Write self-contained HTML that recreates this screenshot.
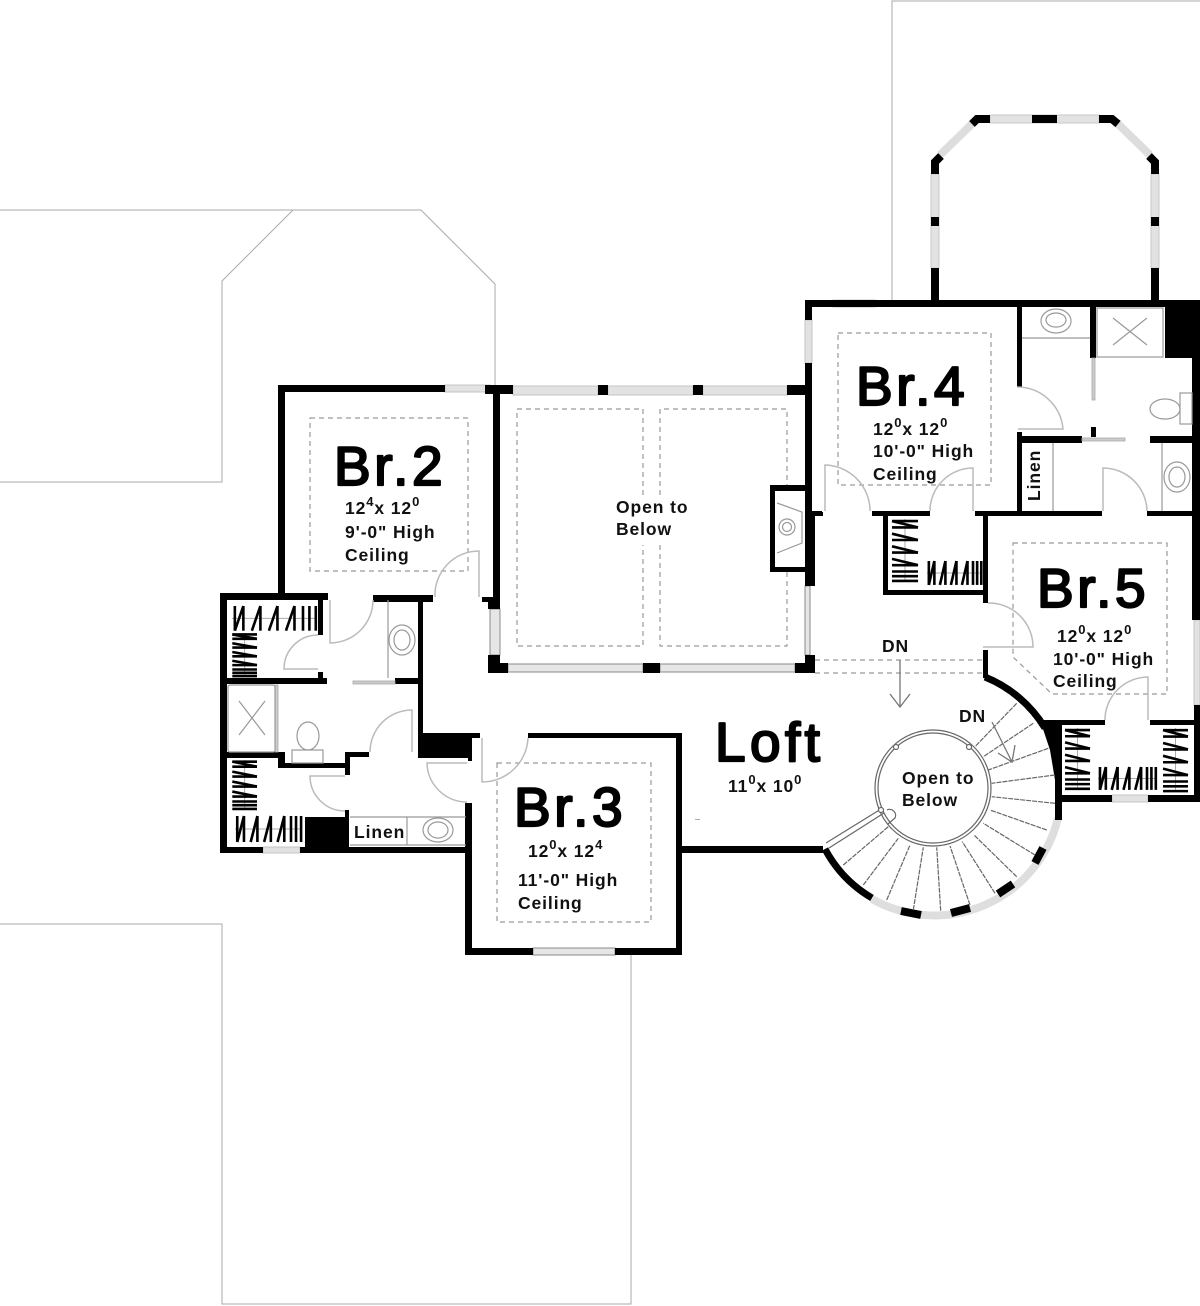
<!DOCTYPE html>
<html><head><meta charset="utf-8"><title>Second floor plan</title>
<style>
html,body{margin:0;padding:0;background:#fff}
svg{display:block;filter:blur(.35px)}
text{font-family:"Liberation Sans",sans-serif;font-weight:bold;fill:#111}
.big{font-size:55px;font-weight:normal;letter-spacing:3.6px;fill:#000;stroke:#000;stroke-width:2.2px;stroke-linejoin:round}
.loft{letter-spacing:4.4px}
.s{font-size:17.5px;letter-spacing:.9px}
.sup{font-size:13px}
.thin{fill:none;stroke:#aaa;stroke-width:1}
.dash{fill:none;stroke:#999;stroke-width:1.2;stroke-dasharray:5 4}
.door{fill:none;stroke:#bbb;stroke-width:1.5}
.fx{fill:none;stroke:#999;stroke-width:1.2}
.win{fill:#e2e2e2;stroke:#c4c4c4;stroke-width:1}
.winb{fill:#e6e6e6;stroke:#8a8a8a;stroke-width:1}
.tread{stroke:#666;stroke-width:1.2;stroke-dasharray:5 1;fill:none}
</style></head><body>
<svg xmlns="http://www.w3.org/2000/svg" width="1200" height="1306" viewBox="0 0 1200 1306">
<defs>
<g id="hang">
<line x1="0" y1="13" x2="60" y2="13" stroke="#aaa" stroke-width="1" vector-effect="non-scaling-stroke"/>
<g stroke="#000" stroke-width="2.6" fill="none">
<line x1="2" y1="26" x2="2" y2="0" vector-effect="non-scaling-stroke"/>
<line x1="2" y1="26" x2="8" y2="0" vector-effect="non-scaling-stroke"/>
<line x1="8" y1="26" x2="8" y2="0" vector-effect="non-scaling-stroke"/>
<line x1="14" y1="26" x2="20" y2="0" vector-effect="non-scaling-stroke"/>
<line x1="20" y1="26" x2="20" y2="0" vector-effect="non-scaling-stroke"/>
<line x1="26" y1="26" x2="32" y2="0" vector-effect="non-scaling-stroke"/>
<line x1="32" y1="26" x2="32" y2="0" vector-effect="non-scaling-stroke"/>
<line x1="38" y1="26" x2="44" y2="0" vector-effect="non-scaling-stroke"/>
<line x1="44" y1="26" x2="44" y2="0" vector-effect="non-scaling-stroke"/>
<line x1="50" y1="26" x2="50" y2="0" vector-effect="non-scaling-stroke"/>
<line x1="54.5" y1="26" x2="54.5" y2="0" vector-effect="non-scaling-stroke"/>
<line x1="59" y1="26" x2="59" y2="0" vector-effect="non-scaling-stroke"/>
</g>
</g>
</defs>
<rect width="1200" height="1306" fill="#fff"/>

<!-- roof outlines -->
<path class="thin" d="M892 300V1H1200"/>
<path class="thin" d="M0 210H293L222 281V482H0"/>
<path class="thin" d="M293 210H421L495 284V388"/>
<path class="thin" d="M0 924H222V1304H631V955"/>

<!-- dashed ceilings -->
<rect class="dash" x="310" y="418" width="158" height="153"/>
<rect class="dash" x="497" y="763" width="154" height="159"/>
<rect class="dash" x="838" y="333" width="153" height="152"/>
<path class="dash" d="M1013 543H1167V694H1052L1013 657Z"/>
<path class="dash" d="M643 495V409H517V646H643V545"/>
<path class="dash" d="M660 495V409H787V485M787 572V646H660V545"/>
<path class="dash" d="M815 660H983M815 673H983"/>

<!-- bay -->
<g fill="#e2e2e2" stroke="#c8c8c8">
<rect x="931" y="174" width="8" height="94"/>
<rect x="1151" y="174" width="8" height="94"/>
<rect x="990" y="115" width="109" height="8"/>
</g>
<path d="M940 155L974 122M1150 155L1116 122" stroke="#ddd" stroke-width="8" fill="none"/>
<g fill="none" stroke="#000" stroke-width="8">
<path d="M935 174V162L941 156"/>
<path d="M1155 174V162L1149 156"/>
<path d="M972 124L977 119H990"/>
<path d="M1118 124L1112 119H1099"/>
</g>
<g fill="#000">
<rect x="1032" y="115" width="25" height="8"/>
<rect x="931" y="217" width="8" height="9"/>
<rect x="1151" y="217" width="8" height="9"/>
<rect x="931" y="268" width="8" height="34"/>
<rect x="1151" y="268" width="8" height="34"/>
</g>

<!-- windows -->
<rect class="win" x="445" y="385" width="45" height="7"/>
<rect class="win" x="513" y="386" width="85" height="9"/>
<rect class="win" x="608" y="386" width="85" height="9"/>
<rect class="win" x="703" y="386" width="84" height="9"/>
<rect class="winb" x="490" y="609" width="10" height="46"/>
<rect class="winb" x="508" y="664" width="135" height="8"/>
<rect class="winb" x="660" y="664" width="135" height="8"/>
<rect class="winb" x="805" y="586" width="5" height="69"/>
<rect class="win" x="833" y="300" width="42" height="7"/>
<rect class="win" x="805" y="320" width="7" height="43"/>
<rect class="win" x="1194" y="620" width="6" height="85"/>
<rect class="win" x="1112" y="795" width="36" height="7"/>
<rect class="win" x="263" y="847" width="37" height="6"/>
<rect class="winb" x="533" y="948" width="82" height="7"/>

<!-- stair arc windows -->
<path d="M1058 818A127 127 0 0 1 872 899" fill="none" stroke="#dedede" stroke-width="8"/>

<!-- walls -->
<g fill="#000">
<rect x="805" y="300" width="395" height="7"/>
<rect x="805" y="300" width="7" height="20"/>
<rect x="805" y="363" width="7" height="223"/>
<rect x="1017" y="307" width="5" height="80"/>
<rect x="1017" y="432" width="5" height="80"/>
<rect x="1022" y="436" width="60" height="7"/>
<rect x="1150" y="436" width="42" height="7"/>
<rect x="1090" y="307" width="6" height="51"/>
<rect x="1091" y="427" width="5" height="10"/>
<rect x="1165" y="307" width="35" height="51"/>
<rect x="1192" y="307" width="8" height="313"/>
<rect x="1194" y="705" width="6" height="97"/>
<rect x="805" y="511" width="17" height="5"/>
<rect x="872" y="511" width="58" height="5"/>
<rect x="975" y="511" width="127" height="5"/>
<rect x="1147" y="511" width="48" height="5"/>
<rect x="883" y="516" width="5" height="79"/>
<rect x="883" y="590" width="105" height="5"/>
<rect x="983" y="511" width="5" height="92"/>
<rect x="983" y="650" width="5" height="28"/>
<rect x="1040" y="720" width="65" height="5"/>
<rect x="1150" y="720" width="50" height="5"/>
<polygon points="1040,720 1062,720 1062,780 1055,780 1050,750"/>
<rect x="1055" y="770" width="7" height="50"/>
<rect x="1062" y="795" width="50" height="7"/>
<rect x="1148" y="795" width="52" height="7"/>
<rect x="485" y="385" width="28" height="9"/>
<rect x="493" y="385" width="7" height="224"/>
<rect x="482" y="597" width="16" height="5"/>
<rect x="488" y="602" width="11" height="7"/>
<rect x="598" y="385" width="10" height="10"/>
<rect x="693" y="385" width="10" height="10"/>
<rect x="787" y="385" width="18" height="10"/>
<path d="M488 655H500V663H508V673H488Z"/>
<rect x="643" y="663" width="17" height="10"/>
<path d="M805 655H815V673H795V663H805Z"/>
<rect x="770" y="485" width="35" height="6"/>
<rect x="770" y="485" width="5" height="87"/>
<rect x="770" y="567" width="35" height="5"/>
<rect x="805" y="513" width="10" height="73"/>
<rect x="813" y="512" width="10" height="4"/>
<rect x="278" y="385" width="167" height="7"/>
<rect x="278" y="385" width="7" height="210"/>
<rect x="220" y="593" width="108" height="7"/>
<rect x="220" y="593" width="7" height="260"/>
<rect x="318" y="600" width="5" height="35"/>
<rect x="318" y="672" width="5" height="9"/>
<rect x="227" y="678" width="100" height="6"/>
<rect x="373" y="595" width="60" height="7"/>
<rect x="418" y="595" width="5" height="140"/>
<rect x="395" y="678" width="23" height="6"/>
<rect x="423" y="733" width="57" height="5"/>
<rect x="418" y="733" width="50" height="25"/>
<rect x="468" y="733" width="4" height="28"/>
<rect x="227" y="752" width="53" height="6"/>
<rect x="278" y="752" width="7" height="16"/>
<rect x="278" y="763" width="72" height="5"/>
<rect x="345" y="752" width="5" height="23"/>
<rect x="345" y="752" width="24" height="5"/>
<rect x="345" y="810" width="4" height="10"/>
<rect x="305" y="817" width="44" height="32"/>
<rect x="220" y="847" width="43" height="6"/>
<rect x="300" y="847" width="170" height="6"/>
<rect x="465" y="803" width="7" height="152"/>
<rect x="465" y="948" width="68" height="7"/>
<rect x="615" y="948" width="67" height="7"/>
<rect x="676" y="733" width="6" height="222"/>
<rect x="528" y="733" width="154" height="5"/>
<rect x="682" y="846" width="141" height="7"/>
</g>
<g fill="none" stroke="#000">
<path d="M985 677A125 125 0 0 1 1045 728" stroke-width="7"/>
<path d="M825 849A125 125 0 0 0 872 898" stroke-width="7"/>
<path d="M1043 848L1035 863M1013 884L998 894M970 908L951 913M921 915L901 911" stroke-width="8"/>
</g>
<rect x="695" y="819" width="5" height="1" fill="#aaa"/>

<!-- doors -->
<g class="door">
<path d="M1018 429H1063A46 46 0 0 0 1017 387"/>
<path d="M825 511V465A46 46 0 0 1 870 511"/>
<path d="M973 511V468A43 43 0 0 0 930 511"/>
<path d="M1103 511V468A44 44 0 0 1 1147 511"/>
<path d="M983 647H1033A44 44 0 0 0 988 603"/>
<path d="M1148 720V677A43 43 0 0 0 1105 720"/>
<path d="M479 597V551A44 44 0 0 0 435 597"/>
<path d="M482 738V782A46 46 0 0 0 528 738"/>
<path d="M330 600V643A43 43 0 0 0 373 600"/>
<path d="M318 669H284A34 34 0 0 1 318 635"/>
<path d="M412 752V710A42 42 0 0 0 370 752"/>
<path d="M345 776H310A35 35 0 0 0 345 811"/>
<path d="M467 763H427A40 40 0 0 0 467 802"/>
</g>

<!-- pocket doors -->
<g fill="#ccc" stroke="#aaa" stroke-width=".8">
<rect x="1092" y="358" width="3" height="42"/>
<rect x="1082" y="438" width="43" height="3"/>
<rect x="353" y="681" width="42" height="3"/>
<rect x="275" y="685" width="3" height="67"/>
</g>

<!-- fixtures -->
<g class="fx">
<path d="M1022 338H1090"/>
<ellipse cx="1056" cy="321" rx="15" ry="12"/><ellipse cx="1056" cy="320" rx="10" ry="7"/>
<rect x="1097" y="308" width="66" height="49"/>
<path d="M1113 318L1147 345M1147 318L1113 345"/>
<ellipse cx="1165" cy="409" rx="15" ry="10"/>
<rect x="1180" y="393" width="12" height="31"/>
<path d="M1162 443V511M1053 443V511"/>
<ellipse cx="1177" cy="477" rx="13" ry="15"/><ellipse cx="1177" cy="477" rx="8" ry="10"/>
<path d="M388 600V678"/>
<ellipse cx="402" cy="640" rx="13" ry="15"/><ellipse cx="402" cy="640" rx="8" ry="10"/>
<rect x="228" y="685" width="47" height="67" rx="2"/>
<path d="M239 701L265 735M265 701L239 735"/>
<ellipse cx="308" cy="736" rx="11" ry="14"/>
<rect x="292" y="750" width="31" height="13"/>
<path d="M350 817H466M350 845H466M407 817V845"/>
<ellipse cx="438" cy="830" rx="15" ry="12"/><ellipse cx="438" cy="830" rx="10" ry="8"/>
<path d="M777 503L802 512V543L777 553"/>
<circle cx="787" cy="527" r="8"/><circle cx="787" cy="527" r="4.5"/>
</g>

<!-- closets -->
<use href="#hang" transform="translate(232,606) scale(1.42,.95)"/>
<use href="#hang" transform="translate(257,633) rotate(90) scale(.73,.95)"/>
<use href="#hang" transform="translate(257,760) rotate(90) scale(.83,.95)"/>
<use href="#hang" transform="translate(235,816) scale(1.12,1)"/>
<use href="#hang" transform="translate(918,519) rotate(90) scale(1.05,1)"/>
<use href="#hang" transform="translate(927,561) scale(.92,.92)"/>
<use href="#hang" transform="translate(1090,728) rotate(90) scale(1.03,.96)"/>
<use href="#hang" transform="translate(1098,767) scale(.98,.88)"/>
<use href="#hang" transform="translate(1188,728) rotate(90) scale(1.07,.96)"/>

<!-- stairs -->
<g class="tread">
<path d="M1016.7 703.3L975 746.7M1033.3 723.3L983.3 756.7M1048.3 748.3L988.3 770M1055 775L991.7 783.3M1055 803.3L991.7 796.7M1046.7 830L990 810M1035 855L983.3 823.3M1016.7 876.7L974 835M995 893.3L962.3 841.7M970 905L950 846M940.7 910.7L936.7 847.3M913.3 910L923.3 847.3M886.7 900L910 845M863.3 885L898.3 838.3M843.3 865L888.3 826.7"/>
</g>
<g fill="none" stroke="#666" stroke-width="1.2">
<circle cx="933" cy="788" r="55"/>
<circle cx="933" cy="788" r="58"/>
<path d="M881 809L826 843M884 813L829 848"/>
<path d="M887 810A6 6 0 0 1 895 818L888 824"/>
<circle cx="896" cy="747" r="2.5" fill="#fff"/>
<circle cx="969" cy="747" r="2.5" fill="#fff"/>
<circle cx="881" cy="810" r="2.5" fill="#fff"/>
</g>
<g fill="none" stroke="#777" stroke-width="1.3">
<path d="M900 660V706M890 694L900 707L910 694"/>
<path d="M992 722L1012 762M998 753L1012 762L1015 745"/>
</g>

<!-- labels -->
<text class="big" x="334" y="485">Br.2</text>
<text class="s" x="345" y="514">12<tspan class="sup" dy="-8">4</tspan><tspan dy="8">x 12</tspan><tspan class="sup" dy="-8">0</tspan></text>
<text class="s" x="345" y="538">9'-0" High</text>
<text class="s" x="345" y="561">Ceiling</text>

<text class="big" x="514" y="826">Br.3</text>
<text class="s" x="528" y="857">12<tspan class="sup" dy="-8">0</tspan><tspan dy="8">x 12</tspan><tspan class="sup" dy="-8">4</tspan></text>
<text class="s" x="518" y="886">11'-0" High</text>
<text class="s" x="518" y="909">Ceiling</text>

<text class="big" x="856" y="405">Br.4</text>
<text class="s" x="873" y="435">12<tspan class="sup" dy="-8">0</tspan><tspan dy="8">x 12</tspan><tspan class="sup" dy="-8">0</tspan></text>
<text class="s" x="873" y="457">10'-0" High</text>
<text class="s" x="873" y="480">Ceiling</text>

<text class="big" x="1037" y="607">Br.5</text>
<text class="s" x="1057" y="642">12<tspan class="sup" dy="-8">0</tspan><tspan dy="8">x 12</tspan><tspan class="sup" dy="-8">0</tspan></text>
<text class="s" x="1053" y="665">10'-0" High</text>
<text class="s" x="1053" y="687">Ceiling</text>

<text class="big loft" x="715" y="761">Loft</text>
<text class="s" x="728" y="792">11<tspan class="sup" dy="-8">0</tspan><tspan dy="8">x 10</tspan><tspan class="sup" dy="-8">0</tspan></text>

<text class="s" x="616" y="513">Open to</text>
<text class="s" x="616" y="535">Below</text>
<text class="s" x="902" y="784">Open to</text>
<text class="s" x="902" y="806">Below</text>
<text class="s" x="882" y="652">DN</text>
<text class="s" x="959" y="722">DN</text>
<text class="s" x="354" y="838">Linen</text>
<text class="s" transform="translate(1040,501) rotate(-90)">Linen</text>
</svg>
</body></html>
